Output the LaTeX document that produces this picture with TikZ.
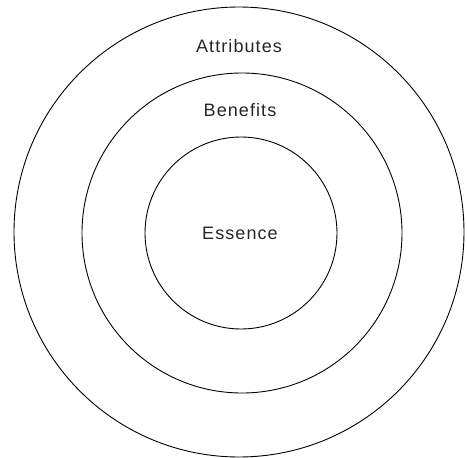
\documentclass[tikz,border=0pt]{standalone}
\usepackage{fontspec}
\setmainfont{Liberation Sans}[LetterSpace=6]
\usepackage{tikz}
\usetikzlibrary{positioning}

\begin{document}
\begin{tikzpicture}[
  x=1pt, y=-1pt,
  ring/.style={draw, circle, line width=0.9pt, inner sep=0pt},
  label/.style={font=\fontsize{18}{21}\selectfont, text=black!85},
]
\useasboundingbox (0,0) rectangle (467,458);

% 同心円
\node[ring, minimum size=450pt] (attr) at (239,232) {};
\node[ring, minimum size=320pt] (bene) at (242,233) {};
\node[ring, minimum size=192pt] (ess)  at (241,233) {};

% ラベル
\node[label] (attrtext) at (239,46)  {Attributes};
\node[label] (benetext) at (240,110) {Benefits};
\node[label] (esstext)  at (240,233) {Essence};

\end{tikzpicture}
\end{document}
